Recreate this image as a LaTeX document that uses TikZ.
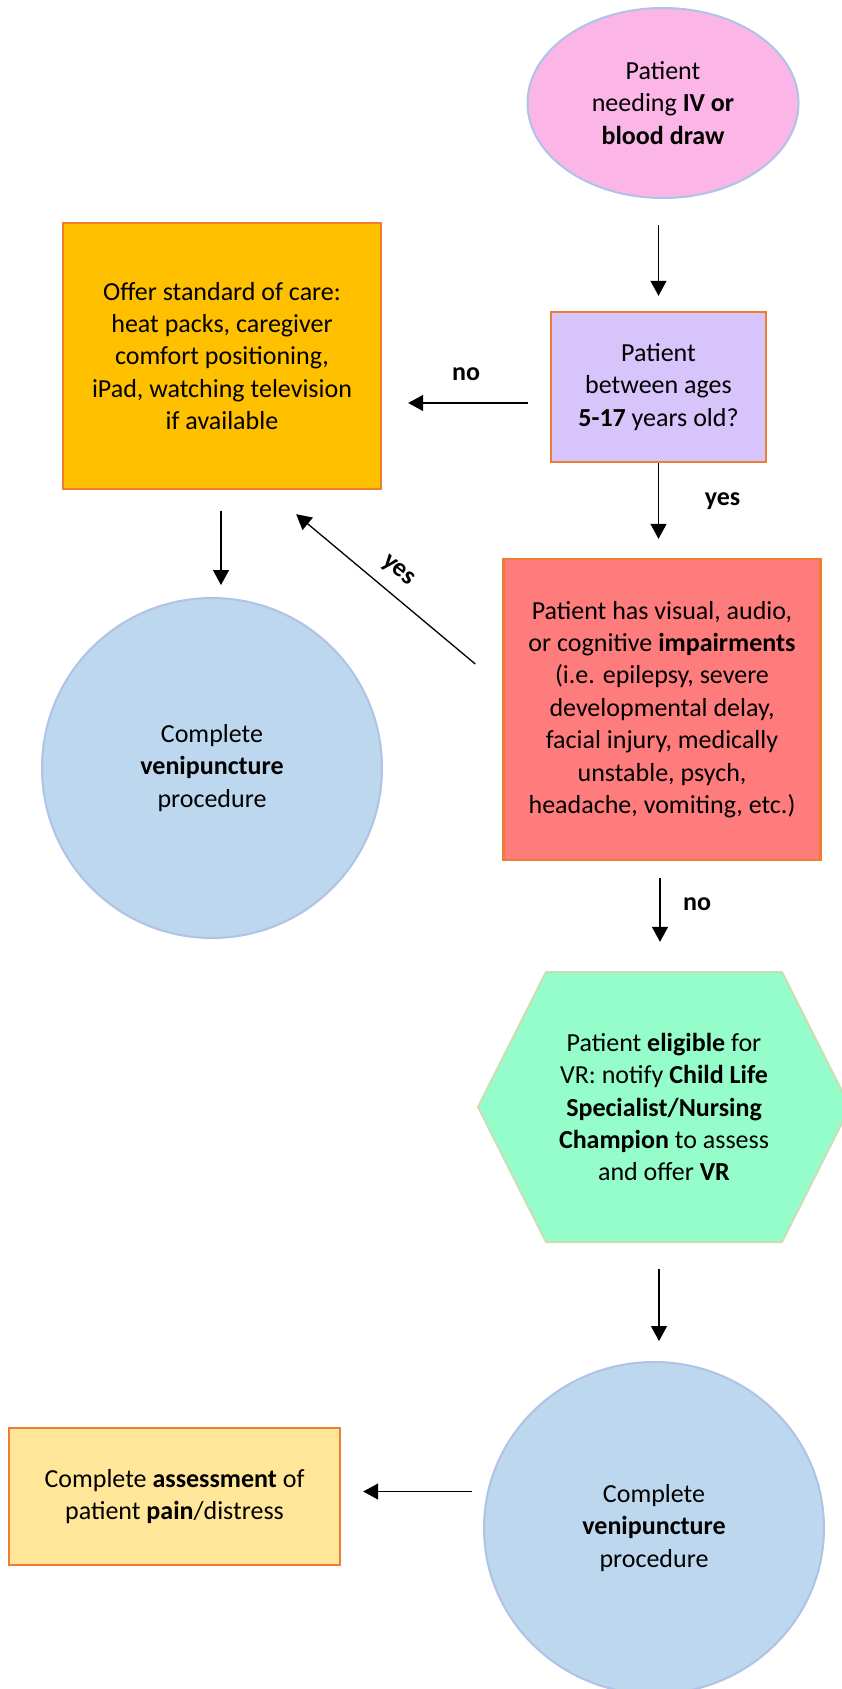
\documentclass[tikz,border=0pt]{standalone}
\usepackage{fontspec}
\setmainfont{Carlito}
\usetikzlibrary{shapes.geometric,arrows.meta,calc}

\definecolor{orangeline}{HTML}{ED7D31}
\definecolor{pinkfill}{HTML}{FBB5E6}
\definecolor{blueline}{HTML}{AFC3E6}
\definecolor{goldfill}{HTML}{FFC000}
\definecolor{lilacfill}{HTML}{D6C4FB}
\definecolor{salmonfill}{HTML}{FF7C7C}
\definecolor{mintfill}{HTML}{94FDCA}
\definecolor{mintline}{HTML}{C9DDB6}
\definecolor{skyfill}{HTML}{BDD7EE}
\definecolor{creamfill}{HTML}{FFE699}

\tikzset{
  every node/.style={font=\fontsize{26}{32.4}\selectfont, align=center, inner sep=0pt},
  boxnode/.style={rectangle, draw=orangeline, line width=2.4pt},
  roundnode/.style={ellipse, draw=blueline, line width=2pt, fill=skyfill},
  arr/.style={line width=1.3pt, -{Triangle[width=16pt,length=15pt]}},
  lbl/.style={font=\fontsize{26}{32.4}\selectfont\bfseries}
}

\begin{document}
\begin{tikzpicture}[x=1pt,y=-1pt]
\useasboundingbox[fill=white] (0,0) rectangle (841,1689);

% start
\node[ellipse, draw=blueline, line width=2pt, fill=pinkfill,
      minimum width=271, minimum height=190] (start) at (663,103)
  {Patient\\ needing \textbf{IV or}\\ \textbf{blood draw}};

% age check
\node[boxnode, fill=lilacfill, minimum width=215, minimum height=150] (age) at (658.5,387)
  {Patient\\ between ages\\ \textbf{5-17} years old?};

% standard of care
\node[boxnode, fill=goldfill, minimum width=318, minimum height=266] (care) at (222,356)
  {Offer standard of care:\\ heat packs, caregiver\\ comfort positioning,\\ iPad, watching television\\ if available};

% impairments
\node[boxnode, fill=salmonfill, minimum width=317, minimum height=301] (impair) at (662,709.5)
  {Patient has visual, audio,\\ or cognitive \textbf{impairments}\\ (i.e. epilepsy, severe\\ developmental delay,\\ facial injury, medically\\ unstable, psych,\\ headache, vomiting, etc.)};

% venipuncture (standard path)
\node[roundnode, minimum width=340, minimum height=340] (veniA) at (212,768)
  {Complete\\ \textbf{venipuncture}\\ procedure};

% eligible hexagon
\fill[mintfill, draw=mintline, line width=2pt]
  (478,1107) -- (546,972) -- (782,972) -- (850,1107) -- (782,1242) -- (546,1242) -- cycle;
\node[minimum width=372, minimum height=270] (elig) at (664,1107)
  {Patient \textbf{eligible} for\\ VR: notify \textbf{Child Life}\\ \textbf{Specialist/Nursing}\\ \textbf{Champion} to assess\\ and offer \textbf{VR}};

% venipuncture (VR path)
\node[roundnode, minimum width=340, minimum height=332] (veniB) at (654,1528)
  {Complete\\ \textbf{venipuncture}\\ procedure};

% assessment
\node[boxnode, fill=creamfill, minimum width=331, minimum height=137] (assess) at (174.5,1496.5)
  {Complete \textbf{assessment} of\\ patient \textbf{pain}/distress};

% connectors
\draw[arr, shorten <=26pt, shorten >=15pt] (age.north |- start.south) -- (age.north);
\draw[arr, shorten <=22pt, shorten >=26pt]
  ([yshift=-16]age.west) -- ([yshift=-16]age.west -| care.east)
  node[pos=0.5, lbl, yshift=29] {no};
\draw[arr, shorten >=19pt] (age.south) -- (age.south |- impair.north)
  node[pos=0.5, lbl, xshift=64, yshift=9] {yes};
\draw[arr] ([shift={(-27,-45.5)}]impair.west) -- ([shift={(-86,24)}]care.south east);
\node[lbl, rotate=-39.4] (yesdiag) at (398,571) {yes};
\draw[arr, shorten <=21pt, shorten >=12pt] ([xshift=-1]care.south) -- ([xshift=-1]care.south |- veniA.north);
\draw[arr, shorten <=17pt, shorten >=30pt] ([xshift=-2]impair.south) -- ([xshift=-2]impair.south |- elig.north)
  node[pos=0.5, lbl, xshift=37, yshift=12] {no};
\draw[arr, shorten <=27pt, shorten >=20pt] ([xshift=-5]elig.south) -- ([xshift=-5]elig.south |- veniB.north);
\draw[arr, shorten <=11pt, shorten >=22pt] ([yshift=5]veniB.west |- assess.east) -- ([yshift=5]assess.east);
\end{tikzpicture}
\end{document}
